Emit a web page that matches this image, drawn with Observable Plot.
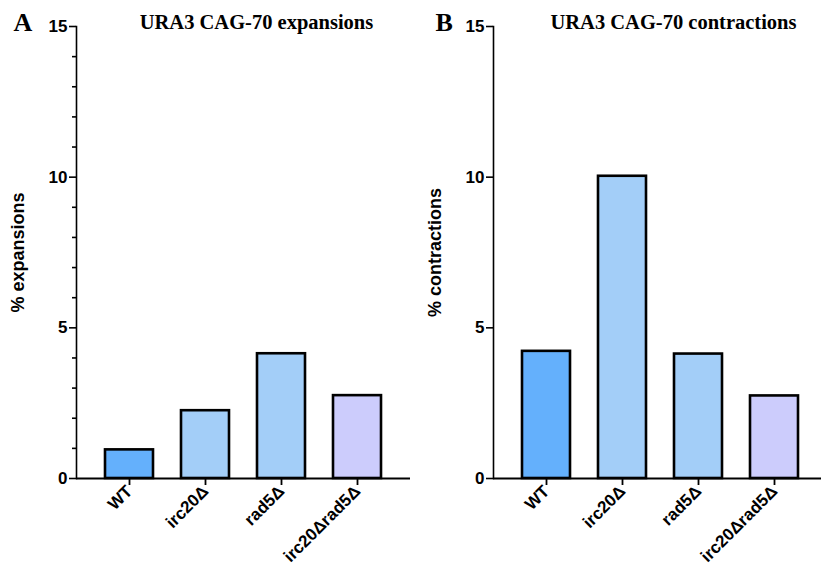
<!DOCTYPE html>
<html><head><meta charset="utf-8">
<script src="https://cdn.jsdelivr.net/npm/d3@7"></script>
<script src="https://cdn.jsdelivr.net/npm/@observablehq/plot@0.6"></script>
<style>
body{margin:0;background:#fff;}
#wrap{position:relative;width:821px;height:573px;background:#fff;}
#a,#b{position:absolute;top:0;}
#a{left:0}
#b{left:417px}
</style></head><body><div id="wrap"><div id="a"></div><div id="b"></div></div>
<script>
const strains = ["WT", "irc20Δ", "rad5Δ", "irc20Δrad5Δ"];
const expansions = [0.95, 2.25, 4.14, 2.75];
const contractions = [4.22, 10.03, 4.13, 2.74];
const barColors = ["#64B0FC", "#A3CEF8", "#A3CEF8", "#CCCCFC"];
const majorTicks = [0, 5, 10, 15];
const minorTicks = [1, 2, 3, 4, 6, 7, 8, 9, 11, 12, 13, 14];
const panelLetters = ["A", "B"];
const panelTitles = ["URA3 CAG-70 expansions", "URA3 CAG-70 contractions"];
const yLabels = ["% expansions", "% contractions"];

function panel(i, values, withMinor, width, marginRight, letterDx) {
  const data = strains.map((s, k) => ({strain: s, value: values[k], color: barColors[k]}));
  const marks = [
    Plot.barY(data, {x: "strain", y: "value", fill: "color", stroke: "black", strokeWidth: 2.6}),
    Plot.frame({anchor: "left", stroke: "black", strokeWidth: 1.6}),
    Plot.ruleY([0], {stroke: "black", strokeWidth: 2}),
    Plot.axisY({ticks: majorTicks, tickSize: 7, tickPadding: 2, fontSize: 17, fontWeight: "bold", strokeWidth: 1.6, label: null}),
    Plot.axisX({tickSize: 7, tickPadding: 3, tickRotate: -45, fontSize: 17, fontWeight: "bold", strokeWidth: 1.8, label: null}),
    Plot.text([yLabels[i]], {frameAnchor: "left", dx: -58, rotate: -90, textAnchor: "middle", fontSize: 18, fontWeight: "bold"}),
    Plot.text([panelTitles[i]], {frameAnchor: "top-left", dx: 180, dy: 2, lineAnchor: "bottom", textAnchor: "middle", fontFamily: "Liberation Serif, Times New Roman, serif", fontWeight: "bold", fontSize: 20.5}),
    Plot.text([panelLetters[i]], {frameAnchor: "top-left", dx: letterDx, dy: 4, lineAnchor: "bottom", textAnchor: "start", fontFamily: "Liberation Serif, Times New Roman, serif", fontWeight: "bold", fontSize: 26})
  ];
  if (withMinor) marks.push(Plot.axisY({ticks: minorTicks, tickSize: 4, tickFormat: () => "", strokeWidth: 1.6, label: null}));
  return Plot.plot({
    width, height: 573, marginLeft: 76, marginRight, marginTop: 26, marginBottom: 95,
    style: {fontFamily: "Liberation Sans, Arial, sans-serif", background: "white", color: "black", overflow: "visible"},
    x: {domain: strains, range: [76, 410], paddingInner: 0.364, paddingOuter: 0.351, label: null},
    y: {domain: [0, 15], label: null},
    marks
  });
}
document.getElementById("a").appendChild(panel(0, expansions, true, 417, 7, -63));
document.getElementById("b").appendChild(panel(1, contractions, false, 404, 0, -58));
</script></body></html>
